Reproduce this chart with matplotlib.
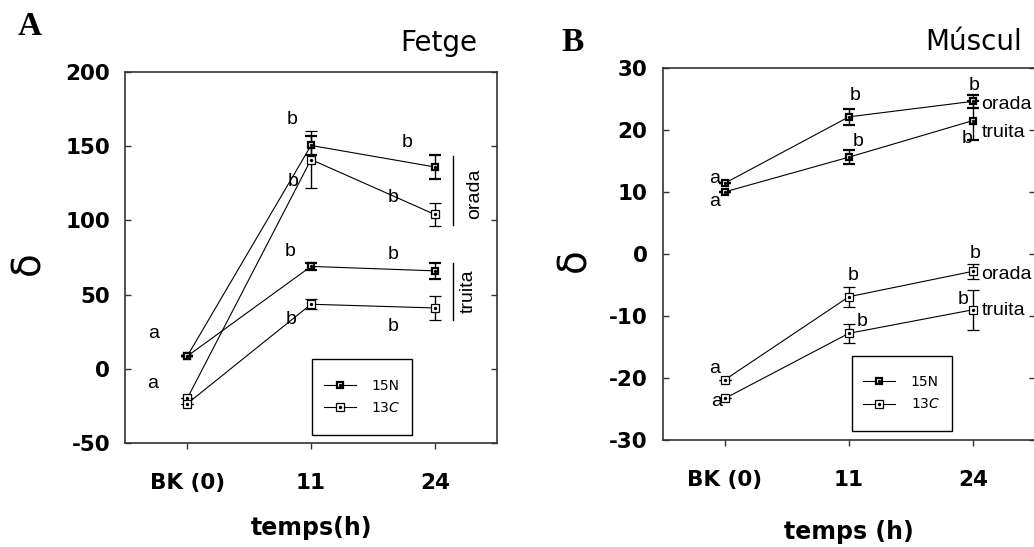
import matplotlib.pyplot as plt
from matplotlib.lines import Line2D
from matplotlib.patches import Rectangle
from matplotlib.legend_handler import HandlerTuple

# sampling times (h)
times = ["BK (0)", "11", "24"]
xpos = [0, 1, 2]

# Fetge (liver): delta values and errors
fetge_orada_15n = [8.5, 150.5, 136]
fetge_orada_15n_err = [0, 6.5, 7.8]
fetge_orada_13c = [-20, 141, 104]
fetge_orada_13c_err = [0, 19, 7.5]
fetge_truita_15n = [8.5, 69, 66]
fetge_truita_15n_err = [0, 2.5, 5.2]
fetge_truita_13c = [-23.5, 43.5, 41]
fetge_truita_13c_err = [0, 3.3, 7.8]

# Múscul (muscle)
muscul_orada_15n = [11.4, 22.1, 24.6]
muscul_orada_15n_err = [0, 1.3, 1.0]
muscul_truita_15n = [10, 15.6, 21.5]
muscul_truita_15n_err = [0, 1.1, 3.1]
muscul_orada_13c = [-20.3, -6.9, -2.8]
muscul_orada_13c_err = [0, 1.6, 1.2]
muscul_truita_13c = [-23.3, -12.8, -9.0]
muscul_truita_13c_err = [0, 1.5, 3.2]

fetge_yticks = [-50, 0, 50, 100, 150, 200]
muscul_yticks = [-30, -20, -10, 0, 10, 20, 30]

# significance letters (x, y, text)
fetge_letters = [(0.847, 168.3, "b"), (0.855, 126, "b"), (0.831, 78.9, "b"), (0.839, 33.1, "b"),
                 (1.774, 152.8, "b"), (1.661, 115.5, "b"), (1.661, 76.8, "b"), (1.661, 28.2, "b"),
                 (-0.274, 23.9, "a"), (-0.282, -9.9, "a")]
muscul_letters = [(-0.08, 12.2, "a"), (-0.083, 8.4, "a"), (-0.08, -18.5, "a"), (-0.067, -23.8, "a"),
                  (1.05, 25.6, "b"), (1.075, 18.1, "b"), (1.035, -3.5, "b"), (1.107, -10.9, "b"),
                  (2.01, 27.1, "b"), (1.954, 18.6, "b"), (2.02, 0.05, "b"), (1.92, -7.4, "b")]

SPINE = "#333333"
ANNOT = "Liberation Sans"


def style_15n():
    return dict(marker="s", ms=5.0, mfc="white", mec="black", mew=1.6)


def style_13c():
    return dict(marker="s", ms=5.6, mfc="white", mec="black", mew=0.9)


def draw_series(ax, y, err, kind):
    st = style_15n() if kind == "15N" else style_13c()
    ax.errorbar(xpos, y, yerr=err, color="black", lw=0.8, elinewidth=1,
                capsize=4, capthick=1, zorder=3, **st)
    ax.plot(xpos, y, ls="none", marker="o", ms=1.4, color="black", zorder=4)


def setup_axes(ax, yticks):
    ax.set_xlim(-0.5, 2.5)
    ax.set_ylim(yticks[0], yticks[-1])
    ax.set_xticks(xpos, times, fontweight="bold")
    ax.set_yticks(yticks, [str(t) for t in yticks], fontweight="bold")
    ax.tick_params(axis="y", left=True, right=True, direction="in", length=4.5,
                   width=1, color=SPINE, labelsize=15.5, pad=11)
    ax.tick_params(axis="x", bottom=True, top=False, direction="out", length=4.5,
                   width=1, color=SPINE, labelsize=15.5, pad=17)
    for sp in ax.spines.values():
        sp.set_color(SPINE)
        sp.set_linewidth(1.2)


def add_legend(ax, x0, y0, w, h):
    # boxed key: frame drawn separately so its size is fixed
    ax.add_patch(Rectangle((x0, y0), w, h, transform=ax.transAxes, fill=True,
                           facecolor="white", edgecolor="black", lw=1, zorder=5))
    h15 = (Line2D([], [], color="black", lw=0.8, **style_15n()),
           Line2D([], [], ls="none", marker="o", ms=1.4, color="black"))
    h13 = (Line2D([], [], color="black", lw=0.8, **style_13c()),
           Line2D([], [], ls="none", marker="o", ms=1.4, color="black"))
    leg = ax.legend([h15, h13], ["15N", r"13$\mathit{C}$"], loc="center",
                    bbox_to_anchor=(x0 + w / 2, y0 + h / 2), borderaxespad=0,
                    frameon=False, handlelength=2.3, borderpad=0,
                    labelspacing=0.6, handletextpad=1.1, fontsize=10, numpoints=1,
                    handler_map={tuple: HandlerTuple(ndivide=1)})
    leg.set_zorder(6)


fig = plt.figure(figsize=(10.34, 5.47), dpi=100)
ax1 = fig.add_axes([0.1212, 0.1901, 0.3592, 0.6783])
ax2 = fig.add_axes([0.6409, 0.1956, 0.3602, 0.6804])

# --- Fetge ---
draw_series(ax1, fetge_orada_15n, fetge_orada_15n_err, "15N")
draw_series(ax1, fetge_orada_13c, fetge_orada_13c_err, "13C")
draw_series(ax1, fetge_truita_15n, fetge_truita_15n_err, "15N")
draw_series(ax1, fetge_truita_13c, fetge_truita_13c_err, "13C")
setup_axes(ax1, fetge_yticks)
for x, y, s in fetge_letters:
    ax1.text(x, y, s, ha="center", va="center", fontsize=14, family=ANNOT)
# species brackets
ax1.plot([2.149, 2.149], [96.9, 143.3], color="black", lw=1)
ax1.plot([2.149, 2.149], [32.7, 71.3], color="black", lw=1)
ax1.text(2.325, 118.2, "orada", rotation=90, ha="center", va="center", fontsize=14, family=ANNOT)
ax1.text(2.268, 52, "truita", rotation=90, ha="center", va="center", fontsize=14, family=ANNOT)
add_legend(ax1, 0.503, 0.0226, 0.269, 0.2027)
ax1.set_xlabel("temps(h)", fontsize=17, fontweight="bold", va="center")
ax1.xaxis.set_label_coords(0.5, -0.228)
ax1.text(-0.262, 0.485, "δ", transform=ax1.transAxes, rotation=90,
         ha="center", va="center", fontsize=28)

# --- Múscul ---
draw_series(ax2, muscul_orada_15n, muscul_orada_15n_err, "15N")
draw_series(ax2, muscul_truita_15n, muscul_truita_15n_err, "15N")
draw_series(ax2, muscul_orada_13c, muscul_orada_13c_err, "13C")
draw_series(ax2, muscul_truita_13c, muscul_truita_13c_err, "13C")
setup_axes(ax2, muscul_yticks)
for x, y, s in muscul_letters:
    ax2.text(x, y, s, ha="center", va="center", fontsize=14, family=ANNOT)
for y, s in [(24.1, "orada"), (19.6, "truita"), (-3.3, "orada"), (-9.2, "truita")]:
    ax2.text(2.067, y, s, ha="left", va="center", fontsize=14, family=ANNOT, clip_on=False)
add_legend(ax2, 0.507, 0.024, 0.269, 0.203)
ax2.set_xlabel("temps (h)", fontsize=17, fontweight="bold", va="center")
ax2.xaxis.set_label_coords(0.5, -0.246)
ax2.text(-0.236, 0.483, "δ", transform=ax2.transAxes, rotation=90,
         ha="center", va="center", fontsize=28)

# panel titles and letters
fig.text(438.5 / 1034, 1 - 51 / 547, "Fetge", ha="center", va="baseline", fontsize=20)
fig.text(974 / 1034, 1 - 50 / 547, "Múscul", ha="center", va="baseline", fontsize=20)
fig.text(18 / 1034, 1 - 35 / 547, "A", ha="left", va="baseline", fontsize=24,
         family="Liberation Serif", fontweight="bold")
fig.text(561 / 1034, 1 - 51 / 547, "B", ha="left", va="baseline", fontsize=24,
         family="Liberation Serif", fontweight="bold")

fig.savefig("out.png", dpi=100)
